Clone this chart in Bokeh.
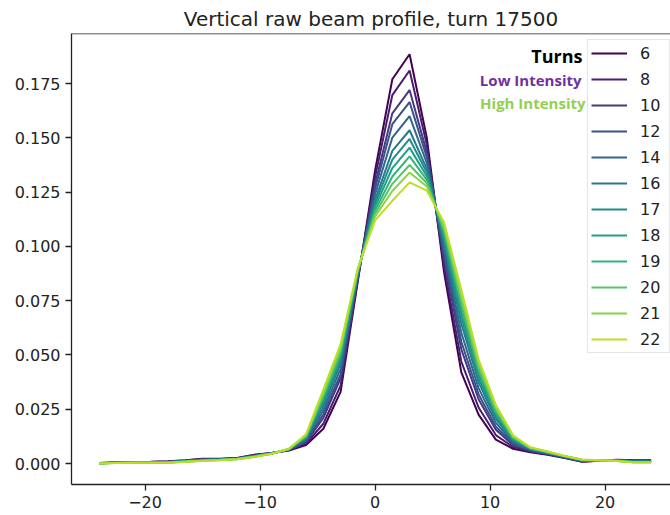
from bokeh.plotting import figure
from bokeh.models import Range1d, FixedTicker, Span, Label, Legend, LegendItem, PrintfTickFormatter
from bokeh.palettes import Viridis256
from bokeh.embed import file_html
from bokeh.resources import INLINE

x_pos = [-24 + 1.5 * i for i in range(33)]

turns = ["6", "8", "10", "12", "14", "16", "17", "18", "19", "20", "21", "22"]

turn_6 = [.0002, .0005, .0007, .0008, .0010, .0015, .0022, .0022, .0025, .0040, .0048, .0060, .0085, .0160, .0330, .0840, .1350, .1770, .1885, .1500, .0880, .0420, .0225, .0110, .0068, .0052, .0040, .0025, .0008, .0013, .0017, .0015, .0015]
turn_8 = [.0002, .0005, .0006, .0007, .0009, .0014, .0021, .0021, .0024, .0039, .0048, .0061, .0092, .0183, .0359, .0848, .1320, .1697, .1810, .1468, .0910, .0469, .0258, .0131, .0076, .0055, .0042, .0026, .0009, .0013, .0016, .0014, .0014]
turn_10 = [.0002, .0004, .0006, .0007, .0008, .0013, .0019, .0020, .0024, .0037, .0047, .0062, .0099, .0210, .0392, .0857, .1286, .1613, .1720, .1432, .0944, .0526, .0296, .0155, .0085, .0058, .0044, .0028, .0011, .0014, .0016, .0012, .0012]
turn_12 = [.0001, .0004, .0006, .0006, .0008, .0012, .0018, .0020, .0023, .0036, .0047, .0063, .0104, .0227, .0411, .0862, .1265, .1563, .1665, .1410, .0965, .0561, .0319, .0169, .0091, .0061, .0046, .0029, .0012, .0014, .0015, .0011, .0011]
turn_14 = [.0001, .0004, .0005, .0006, .0007, .0012, .0017, .0019, .0023, .0035, .0047, .0064, .0109, .0246, .0436, .0869, .1240, .1501, .1600, .1383, .0990, .0602, .0347, .0187, .0098, .0063, .0047, .0030, .0013, .0014, .0015, .0010, .0010]
turn_16 = [.0001, .0003, .0005, .0005, .0006, .0011, .0016, .0018, .0022, .0034, .0046, .0065, .0115, .0266, .0460, .0875, .1214, .1440, .1535, .1357, .1016, .0644, .0375, .0204, .0105, .0066, .0049, .0031, .0014, .0014, .0014, .0009, .0009]
turn_17 = [.0001, .0003, .0004, .0005, .0006, .0010, .0015, .0018, .0022, .0033, .0046, .0065, .0118, .0279, .0475, .0880, .1198, .1400, .1495, .1340, .1032, .0671, .0393, .0216, .0109, .0067, .0050, .0032, .0015, .0014, .0014, .0008, .0008]
turn_18 = [.0001, .0003, .0004, .0005, .0006, .0010, .0015, .0017, .0021, .0033, .0046, .0066, .0122, .0291, .0491, .0884, .1182, .1361, .1455, .1323, .1048, .0697, .0411, .0227, .0113, .0069, .0051, .0032, .0015, .0014, .0013, .0008, .0008]
turn_19 = [.0000, .0003, .0004, .0004, .0005, .0009, .0014, .0017, .0021, .0032, .0046, .0066, .0125, .0304, .0506, .0888, .1166, .1322, .1415, .1306, .1064, .0724, .0429, .0238, .0118, .0070, .0052, .0033, .0016, .0015, .0013, .0007, .0007]
turn_20 = [.0000, .0003, .0004, .0004, .0005, .0009, .0013, .0016, .0021, .0031, .0045, .0067, .0128, .0315, .0519, .0892, .1152, .1288, .1375, .1291, .1078, .0747, .0444, .0248, .0121, .0072, .0053, .0034, .0017, .0015, .0013, .0006, .0006]
turn_21 = [.0000, .0002, .0003, .0003, .0004, .0008, .0013, .0016, .0020, .0031, .0045, .0067, .0131, .0326, .0532, .0895, .1138, .1255, .1340, .1276, .1092, .0770, .0460, .0257, .0125, .0073, .0054, .0034, .0017, .0015, .0012, .0006, .0006]
turn_22 = [.0000, .0002, .0003, .0003, .0004, .0008, .0012, .0015, .0020, .0030, .0045, .0068, .0135, .0340, .0550, .0900, .1120, .1210, .1295, .1257, .1110, .0800, .0480, .0270, .0130, .0075, .0055, .0035, .0018, .0015, .0012, .0005, .0005]

series = [turn_6, turn_8, turn_10, turn_12, turn_14, turn_16, turn_17, turn_18, turn_19, turn_20, turn_21, turn_22]

y_ticks = [0.0, 0.025, 0.05, 0.075, 0.1, 0.125, 0.15, 0.175]
x_ticks = [-20, -10, 0, 10, 20]
x_tick_labels = {-20: "\u221220", -10: "\u221210", 0: "0", 10: "10", 20: "20"}

colors = [Viridis256[int(round(i * 230 / 11))] for i in range(12)]

FONT = "DejaVu Sans"
TXT = "#222222"
Y_TOP = 0.19806

p = figure(width=670, height=515, output_backend="svg", toolbar_location=None,
           x_range=Range1d(-26.4, 25.69), y_range=Range1d(-0.00967, Y_TOP),
           min_border_left=71, min_border_right=0, min_border_top=33, min_border_bottom=31,
           title="Vertical raw beam profile, turn 17500")
p.title.text_font = FONT
p.title.text_font_size = "20px"
p.title.text_font_style = "normal"
p.title.text_color = TXT
p.title.align = "center"
p.title.standoff = 6
p.outline_line_color = None
p.xgrid.visible = False
p.ygrid.visible = False
p.background_fill_color = "white"
p.border_fill_color = "white"

for ax in (p.xaxis[0], p.yaxis[0]):
    ax.axis_line_color = TXT
    ax.axis_line_width = 1.3
    ax.major_tick_line_color = TXT
    ax.major_tick_line_width = 1.3
    ax.major_tick_in = 0
    ax.major_tick_out = 6
    ax.minor_tick_in = 0
    ax.minor_tick_out = 0
    ax.major_label_text_font = FONT
    ax.major_label_text_font_size = "16px"
    ax.major_label_text_color = TXT
    ax.major_label_standoff = 5

p.yaxis[0].ticker = FixedTicker(ticks=y_ticks)
p.yaxis[0].formatter = PrintfTickFormatter(format="%.3f")
p.xaxis[0].ticker = FixedTicker(ticks=x_ticks)
p.xaxis[0].major_label_overrides = x_tick_labels

p.add_layout(Span(location=Y_TOP, dimension="width", line_color=TXT, line_width=1.3))

items = []
for lab, vals, col in zip(turns, series, colors):
    r = p.line(x_pos, vals, line_color=col, line_width=2)
    items.append(LegendItem(label=lab, renderers=[r]))

legend = Legend(items=items, location=(516, 131), margin=0, padding=3, spacing=6,
                label_height=20, glyph_height=20, glyph_width=36, label_width=26,
                label_standoff=13, label_text_font=FONT, label_text_font_size="16px",
                label_text_color=TXT, border_line_color="#cccccc", border_line_width=1,
                background_fill_color="white", background_fill_alpha=0.8)
p.add_layout(legend)

p.add_layout(Label(x=511, y=429, x_units="screen", y_units="screen", text="Turns",
                   text_align="right", text_baseline="middle", text_font="Open Sans",
                   text_font_style="bold", text_font_size="18px", text_color="black"))
p.add_layout(Label(x=510, y=405, x_units="screen", y_units="screen", text="Low Intensity",
                   text_align="right", text_baseline="middle", text_font="Open Sans",
                   text_font_style="bold", text_font_size="15px", text_color="#7030A0"))
p.add_layout(Label(x=514, y=382, x_units="screen", y_units="screen", text="High Intensity",
                   text_align="right", text_baseline="middle", text_font="Open Sans",
                   text_font_style="bold", text_font_size="15px", text_color="#92D050"))

open("out.html", "w").write(file_html(p, INLINE))
